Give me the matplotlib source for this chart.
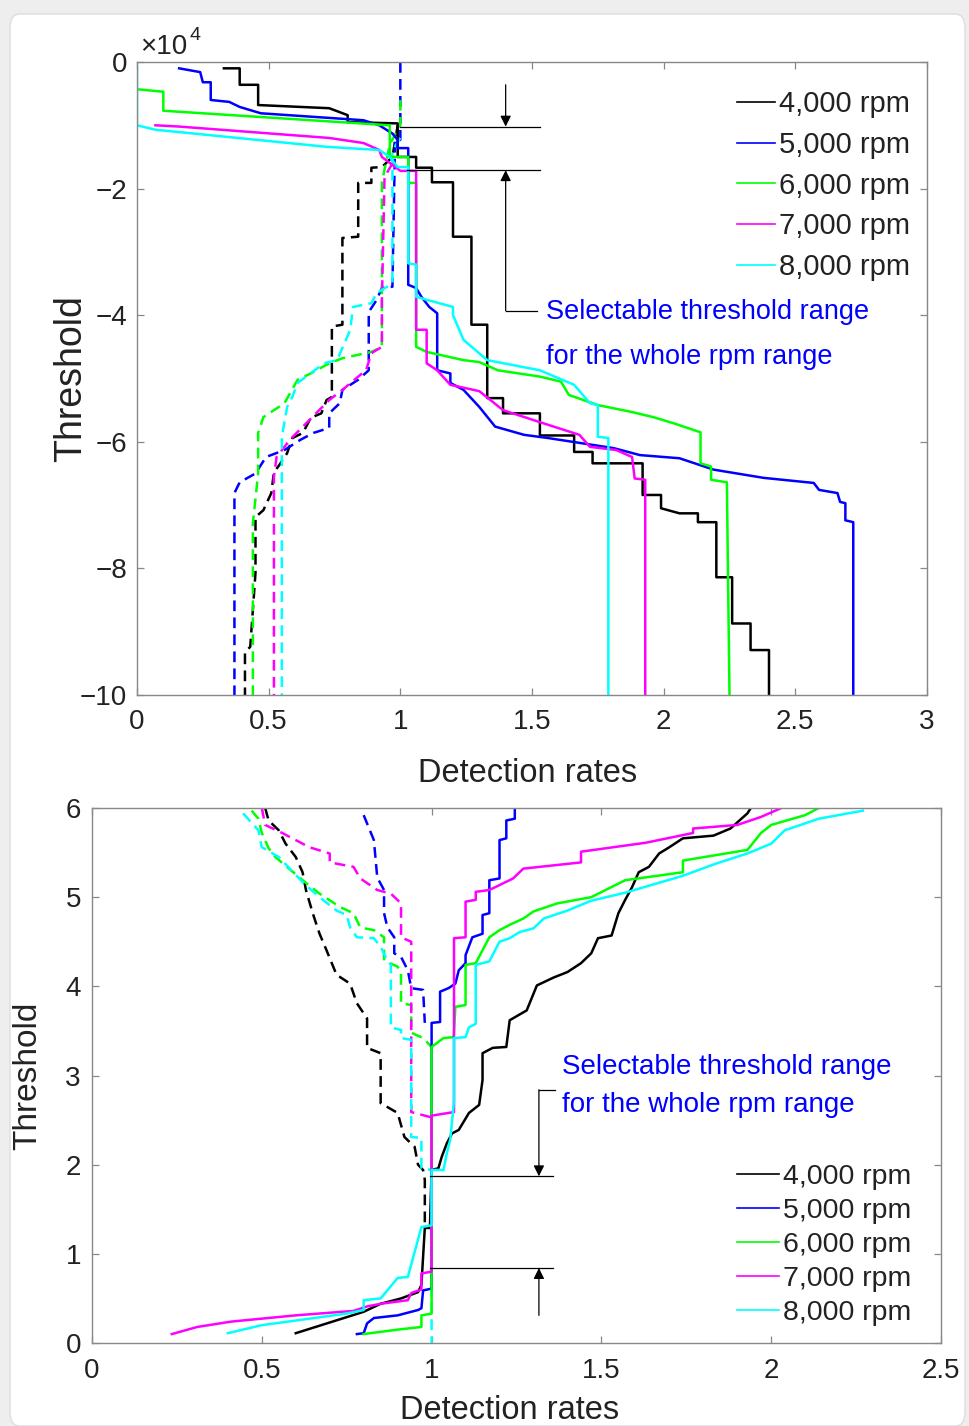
import matplotlib
matplotlib.use("Agg")
import matplotlib.pyplot as plt
from matplotlib.lines import Line2D
from matplotlib.patches import FancyBboxPatch

FONT = "Liberation Sans"

# ---------------- data: upper panel (threshold in units of 1e4) ----------------
rpm_labels = ["4,000 rpm", "5,000 rpm", "6,000 rpm", "7,000 rpm", "8,000 rpm"]
colors = ["#000000", "#0000ff", "#00ff00", "#ff00ff", "#00ffff"]

top_det_4000_x = [0.33, 0.39, 0.39, 0.46, 0.46, 0.73, 0.80, 0.80, 0.99, 0.99, 1.06, 1.06, 1.12, 1.12, 1.20, 1.20,
                  1.27, 1.27, 1.33, 1.33, 1.39, 1.39, 1.53, 1.53, 1.66, 1.66, 1.73, 1.73, 1.92, 1.92, 1.99, 1.99,
                  2.06, 2.13, 2.13, 2.20, 2.20, 2.26, 2.26, 2.33, 2.33, 2.40, 2.40]
top_det_4000_y = [-0.10, -0.10, -0.36, -0.36, -0.68, -0.73, -0.84, -0.95, -0.97, -1.50, -1.50, -1.67, -1.67, -1.90,
                  -1.90, -2.76, -2.76, -4.15, -4.15, -5.31, -5.31, -5.55, -5.55, -5.90, -5.90, -6.16, -6.16, -6.34,
                  -6.34, -6.84, -6.84, -7.05, -7.13, -7.13, -7.27, -7.27, -8.14, -8.14, -8.87, -8.87, -9.29, -9.29,
                  -10.0]
top_det_5000_x = [0.16, 0.24, 0.25, 0.28, 0.28, 0.35, 0.39, 0.47, 0.86, 0.92, 0.97, 0.99, 0.99, 1.03, 1.03, 1.06,
                  1.08, 1.11, 1.14, 1.14, 1.19, 1.19, 1.24, 1.30, 1.36, 1.47, 1.56, 1.81, 1.91, 2.06, 2.19, 2.38,
                  2.57, 2.59, 2.66, 2.67, 2.69, 2.69, 2.72, 2.72]
top_det_5000_y = [-0.10, -0.16, -0.32, -0.32, -0.60, -0.63, -0.71, -0.81, -0.92, -1.00, -1.13, -1.23, -1.36, -1.36,
                  -3.52, -3.57, -3.71, -3.87, -3.97, -4.87, -4.92, -5.07, -5.18, -5.45, -5.76, -5.89, -5.94, -6.10,
                  -6.21, -6.26, -6.44, -6.57, -6.65, -6.76, -6.81, -6.95, -6.97, -7.24, -7.27, -10.0]
top_det_6000_x = [0.00, 0.10, 0.10, 0.96, 0.96, 1.03, 1.03, 1.06, 1.06, 1.10, 1.24, 1.30, 1.37, 1.53, 1.61, 1.64,
                  1.75, 1.88, 1.96, 2.04, 2.14, 2.14, 2.18, 2.18, 2.24, 2.25]
top_det_6000_y = [-0.43, -0.47, -0.77, -1.00, -1.50, -1.50, -1.91, -1.91, -4.50, -4.58, -4.71, -4.74, -4.87, -4.97,
                  -5.05, -5.26, -5.42, -5.53, -5.61, -5.71, -5.85, -6.34, -6.39, -6.60, -6.64, -10.0]
top_det_7000_x = [0.07, 0.16, 0.73, 0.86, 0.92, 0.93, 1.00, 1.06, 1.06, 1.10, 1.10, 1.14, 1.19, 1.30, 1.39, 1.53,
                  1.68, 1.72, 1.82, 1.88, 1.89, 1.93, 1.93]
top_det_7000_y = [-1.00, -1.02, -1.20, -1.28, -1.39, -1.50, -1.72, -1.72, -4.23, -4.23, -4.76, -4.87, -5.10, -5.20,
                  -5.50, -5.69, -5.89, -6.08, -6.13, -6.24, -6.58, -6.60, -10.0]
top_det_8000_x = [0.00, 0.00, 0.07, 0.72, 0.92, 0.96, 0.99, 1.03, 1.03, 1.06, 1.06, 1.20, 1.20, 1.24, 1.33, 1.53,
                  1.66, 1.72, 1.75, 1.75, 1.79, 1.79]
top_det_8000_y = [-0.10, -1.00, -1.07, -1.34, -1.39, -1.50, -1.66, -1.66, -3.18, -3.20, -3.71, -3.87, -4.00, -4.39,
                  -4.71, -4.87, -5.10, -5.39, -5.42, -5.92, -5.94, -10.0]

top_fa_4000_x = [0.99, 0.97, 0.93, 0.89, 0.89, 0.84, 0.84, 0.78, 0.78, 0.74, 0.74, 0.72, 0.70, 0.66, 0.63, 0.59,
                 0.57, 0.54, 0.52, 0.51, 0.48, 0.45, 0.45, 0.43, 0.41, 0.41]
top_fa_4000_y = [-1.00, -1.50, -1.66, -1.67, -1.91, -1.91, -2.76, -2.78, -4.15, -4.18, -5.29, -5.34, -5.55, -5.62,
                 -5.86, -5.94, -6.18, -6.37, -6.48, -6.81, -7.08, -7.19, -8.07, -9.24, -9.32, -10.0]
top_fa_5000_x = [1.00, 1.00, 0.98, 0.97, 0.93, 0.91, 0.88, 0.88, 0.84, 0.78, 0.77, 0.73, 0.73, 0.67, 0.62, 0.56,
                 0.49, 0.45, 0.39, 0.37, 0.37]
top_fa_5000_y = [0.00, -1.23, -1.23, -3.55, -3.57, -3.76, -3.95, -4.87, -5.02, -5.18, -5.39, -5.55, -5.78, -5.86,
                 -5.97, -6.13, -6.24, -6.50, -6.64, -6.81, -10.0]
top_fa_6000_x = [1.00, 1.00, 0.96, 0.93, 0.93, 0.89, 0.78, 0.73, 0.66, 0.61, 0.56, 0.48, 0.46, 0.46, 0.44, 0.44]
top_fa_6000_y = [-0.60, -1.00, -1.30, -1.90, -4.50, -4.58, -4.68, -4.76, -4.92, -5.02, -5.39, -5.61, -5.86, -6.50,
                 -7.29, -10.0]
top_fa_7000_x = [0.97, 0.94, 0.93, 0.93, 0.89, 0.87, 0.84, 0.78, 0.73, 0.68, 0.63, 0.58, 0.56, 0.53, 0.52, 0.52]
top_fa_7000_y = [-1.60, -1.82, -3.76, -4.50, -4.60, -4.87, -4.97, -5.18, -5.34, -5.55, -5.76, -5.97, -6.08, -6.24,
                 -6.55, -10.0]
top_fa_8000_x = [1.00, 0.97, 0.97, 0.91, 0.89, 0.82, 0.81, 0.76, 0.71, 0.61, 0.59, 0.57, 0.55, 0.55]
top_fa_8000_y = [-1.20, -1.40, -3.50, -3.65, -3.81, -3.87, -4.23, -4.71, -4.76, -5.07, -5.29, -5.45, -5.92, -10.0]

# ---------------- data: lower panel ----------------
bot_det_4000_x = [0.60, 0.65, 0.75, 0.80, 0.85, 0.91, 0.96, 0.97, 0.98, 0.995, 1.00, 1.02, 1.03, 1.045, 1.06, 1.08,
                  1.11, 1.14, 1.15, 1.15, 1.18, 1.22, 1.23, 1.28, 1.31, 1.36, 1.40, 1.44, 1.47, 1.49, 1.53, 1.55,
                  1.57, 1.59, 1.61, 1.64, 1.67, 1.70, 1.74, 1.83, 1.88, 1.93, 1.94]
bot_det_4000_y = [0.11, 0.17, 0.29, 0.35, 0.44, 0.50, 0.57, 0.65, 1.29, 1.29, 1.94, 1.96, 2.09, 2.24, 2.35, 2.39,
                  2.58, 2.67, 2.95, 3.25, 3.31, 3.32, 3.62, 3.73, 4.01, 4.10, 4.16, 4.26, 4.37, 4.54, 4.57, 4.82,
                  4.97, 5.11, 5.28, 5.34, 5.49, 5.56, 5.66, 5.69, 5.77, 5.94, 6.00]
bot_det_5000_x = [0.78, 0.80, 0.81, 0.83, 0.90, 0.96, 0.97, 0.975, 1.00, 1.00, 1.025, 1.025, 1.05, 1.07, 1.08, 1.10,
                  1.10, 1.12, 1.15, 1.15, 1.17, 1.17, 1.20, 1.20, 1.22, 1.22, 1.245, 1.245]
bot_det_5000_y = [0.10, 0.11, 0.22, 0.28, 0.31, 0.37, 0.39, 0.59, 0.61, 3.59, 3.60, 3.94, 3.98, 4.03, 4.18, 4.26,
                  4.35, 4.55, 4.59, 4.80, 4.82, 5.19, 5.21, 5.64, 5.66, 5.86, 5.88, 6.00]
bot_det_6000_x = [0.80, 0.90, 0.97, 0.97, 1.00, 1.00, 1.035, 1.065, 1.07, 1.10, 1.10, 1.13, 1.17, 1.20, 1.23, 1.27,
                  1.30, 1.37, 1.47, 1.57, 1.74, 1.74, 1.93, 1.97, 2.00, 2.10, 2.14]
bot_det_6000_y = [0.10, 0.15, 0.18, 0.31, 0.33, 3.32, 3.42, 3.43, 3.77, 3.79, 4.24, 4.26, 4.55, 4.63, 4.69, 4.76,
                  4.84, 4.93, 5.00, 5.19, 5.28, 5.41, 5.53, 5.72, 5.81, 5.92, 6.00]
bot_det_7000_x = [0.235, 0.31, 0.41, 0.60, 0.77, 0.81, 0.85, 0.93, 0.94, 0.97, 0.97, 1.00, 1.00, 1.066, 1.066, 1.10,
                  1.10, 1.13, 1.13, 1.17, 1.24, 1.27, 1.44, 1.44, 1.63, 1.77, 1.77, 1.90, 1.97, 2.03]
bot_det_7000_y = [0.10, 0.18, 0.24, 0.31, 0.36, 0.41, 0.44, 0.48, 0.56, 0.60, 0.78, 0.80, 2.55, 2.59, 4.54, 4.55,
                  4.95, 4.97, 5.06, 5.08, 5.21, 5.32, 5.39, 5.51, 5.61, 5.72, 5.77, 5.81, 5.90, 6.00]
bot_det_8000_x = [0.40, 0.50, 0.75, 0.80, 0.80, 0.85, 0.90, 0.93, 0.97, 1.00, 1.00, 1.035, 1.045, 1.055, 1.066, 1.066,
                  1.10, 1.11, 1.13, 1.13, 1.17, 1.20, 1.23, 1.26, 1.30, 1.33, 1.40, 1.47, 1.57, 1.74, 1.84, 1.93,
                  2.00, 2.04, 2.14, 2.27]
bot_det_8000_y = [0.11, 0.20, 0.33, 0.37, 0.48, 0.50, 0.73, 0.74, 1.30, 1.32, 1.94, 1.94, 2.13, 2.28, 2.72, 3.42,
                  3.43, 3.54, 3.58, 4.24, 4.28, 4.50, 4.54, 4.61, 4.65, 4.76, 4.85, 4.96, 5.05, 5.24, 5.38, 5.49,
                  5.60, 5.75, 5.88, 5.97]

bot_fa_4000_x = [0.51, 0.52, 0.55, 0.57, 0.60, 0.62, 0.63, 0.65, 0.67, 0.69, 0.72, 0.76, 0.78, 0.81, 0.81, 0.85,
                 0.85, 0.90, 0.92, 0.95, 0.96, 0.975, 0.98, 0.98]
bot_fa_4000_y = [6.00, 5.86, 5.75, 5.60, 5.45, 5.28, 5.08, 4.82, 4.59, 4.41, 4.13, 4.03, 3.81, 3.64, 3.31, 3.25,
                 2.69, 2.58, 2.31, 2.20, 2.00, 1.94, 1.83, 1.30]
bot_fa_5000_x = [0.80, 0.83, 0.84, 0.86, 0.86, 0.87, 0.89, 0.89, 0.91, 0.93, 0.94, 0.975, 0.98]
bot_fa_5000_y = [5.92, 5.64, 5.22, 5.08, 4.82, 4.66, 4.55, 4.37, 4.33, 4.18, 3.98, 3.96, 3.59]
bot_fa_6000_x = [0.47, 0.49, 0.50, 0.52, 0.54, 0.58, 0.63, 0.67, 0.73, 0.77, 0.79, 0.83, 0.86, 0.86, 0.90, 0.91,
                 0.91, 0.94, 0.94, 0.975, 1.00]
bot_fa_6000_y = [5.97, 5.88, 5.72, 5.55, 5.45, 5.32, 5.16, 5.04, 4.89, 4.82, 4.66, 4.63, 4.55, 4.29, 4.22, 4.15,
                 3.81, 3.79, 3.48, 3.42, 3.32]
bot_fa_7000_x = [0.50, 0.51, 0.56, 0.61, 0.64, 0.70, 0.70, 0.77, 0.79, 0.84, 0.88, 0.91, 0.91, 0.94, 0.94, 1.00,
                 1.00]
bot_fa_7000_y = [6.00, 5.81, 5.72, 5.62, 5.56, 5.49, 5.39, 5.34, 5.21, 5.08, 5.04, 4.93, 4.55, 4.50, 2.59, 2.53,
                 0.80]
bot_fa_8000_x = [0.445, 0.49, 0.50, 0.55, 0.60, 0.63, 0.68, 0.72, 0.75, 0.76, 0.78, 0.83, 0.85, 0.87, 0.88, 0.88,
                 0.91, 0.91, 0.94, 0.94, 0.97, 0.97, 1.00, 1.00]
bot_fa_8000_y = [5.94, 5.75, 5.56, 5.45, 5.25, 5.13, 4.97, 4.85, 4.80, 4.66, 4.55, 4.54, 4.44, 4.29, 4.24, 3.54,
                 3.51, 3.42, 3.40, 2.31, 2.30, 1.96, 1.94, 0.00]

top_det = [(top_det_4000_x, top_det_4000_y), (top_det_5000_x, top_det_5000_y), (top_det_6000_x, top_det_6000_y),
           (top_det_7000_x, top_det_7000_y), (top_det_8000_x, top_det_8000_y)]
top_fa = [(top_fa_4000_x, top_fa_4000_y), (top_fa_5000_x, top_fa_5000_y), (top_fa_6000_x, top_fa_6000_y),
          (top_fa_7000_x, top_fa_7000_y), (top_fa_8000_x, top_fa_8000_y)]
bot_det = [(bot_det_4000_x, bot_det_4000_y), (bot_det_5000_x, bot_det_5000_y), (bot_det_6000_x, bot_det_6000_y),
           (bot_det_7000_x, bot_det_7000_y), (bot_det_8000_x, bot_det_8000_y)]
bot_fa = [(bot_fa_4000_x, bot_fa_4000_y), (bot_fa_5000_x, bot_fa_5000_y), (bot_fa_6000_x, bot_fa_6000_y),
          (bot_fa_7000_x, bot_fa_7000_y), (bot_fa_8000_x, bot_fa_8000_y)]

# selectable range markers
top_range = [-1.02, -1.71]
bot_range = [1.87, 0.84]

# ---------------- figure ----------------
W, H = 969, 1426
fig = plt.figure(figsize=(W / 100, H / 100), dpi=100, facecolor="#eeeeee")
frame = FancyBboxPatch((10 / W, 0), 955 / W, 1 - 14 / H, boxstyle="round,pad=0,rounding_size=0.01",
                       transform=fig.transFigure, facecolor="white", edgecolor="#dddddd", lw=1, zorder=-10)
fig.patches.append(frame)


def px_axes(l, t, r, b):
    return fig.add_axes([l / W, 1 - b / H, (r - l) / W, (b - t) / H])


ax1 = px_axes(137, 62, 927, 695)
ax2 = px_axes(92, 808, 941, 1343)

LW = 1.8
DASH = (0, (4.3, 2.5))

for (x, y), c in zip(top_fa, colors):
    ax1.plot(x, y, color=c, lw=LW, linestyle=DASH)
for (x, y), c in zip(top_det, colors):
    ax1.plot(x, y, color=c, lw=LW)
for (x, y), c in zip(bot_fa, colors):
    ax2.plot(x, y, color=c, lw=LW, linestyle=DASH)
for (x, y), c in zip(bot_det, colors):
    ax2.plot(x, y, color=c, lw=LW)

for ax in (ax1, ax2):
    ax.set_facecolor("white")
    for s in ax.spines.values():
        s.set_color("#888888")
        s.set_linewidth(1.0)
    ax.tick_params(direction="in", length=5, width=0.9, color="#888888", top=True, right=True,
                   labelcolor="#222222", labelfontfamily=FONT)

# upper axes
ax1.set_xlim(0, 3)
ax1.set_ylim(-10, 0)
ax1.set_xticks([0, 0.5, 1, 1.5, 2, 2.5, 3])
ax1.set_xticklabels(["0", "0.5", "1", "1.5", "2", "2.5", "3"])
ax1.set_yticks([-10, -8, -6, -4, -2, 0])
ax1.set_yticklabels(["\u221210", "\u22128", "\u22126", "\u22124", "\u22122", "0"])
ax1.tick_params(labelsize=20)
ax1.tick_params(axis="x", pad=10)
ax1.tick_params(axis="y", pad=7)
ax1.set_xlabel("Detection rates", fontsize=23.5, family=FONT, color="#222222")
ax1.xaxis.set_label_coords(0.494, -0.100)
ax1.set_ylabel("Threshold", fontsize=27, family=FONT, color="#222222")
ax1.yaxis.set_label_coords(-0.061, 0.5)
ax1.text(0.004, 1.012, "\u00d710", transform=ax1.transAxes, fontsize=20, family=FONT, color="#222222",
         va="baseline", ha="left")
ax1.text(0.067, 1.034, "4", transform=ax1.transAxes, fontsize=14, family=FONT, color="#222222",
         va="baseline", ha="left")

# upper annotation
ax1.plot([1.00, 1.53], [top_range[0]] * 2, color="k", lw=0.9)
ax1.plot([1.025, 1.53], [top_range[1]] * 2, color="k", lw=0.9)
arrow = dict(arrowstyle="-|>", color="k", lw=0.9, mutation_scale=16, shrinkA=0, shrinkB=0)
ax1.annotate("", xy=(1.40, top_range[0]), xytext=(1.40, -0.36), arrowprops=arrow)
ax1.annotate("", xy=(1.40, top_range[1]), xytext=(1.40, -3.93), arrowprops=arrow)
ax1.plot([1.40, 1.52], [-3.93, -3.93], color="k", lw=0.9)
ax1.text(1.555, -3.95, "Selectable threshold range", color="#0000ff", fontsize=19.5, family=FONT, va="center")
ax1.text(1.555, -4.66, "for the whole rpm range", color="#0000ff", fontsize=19.5, family=FONT, va="center")

# lower axes
ax2.set_xlim(0, 2.5)
ax2.set_ylim(0, 6)
ax2.set_xticks([0, 0.5, 1, 1.5, 2, 2.5])
ax2.set_xticklabels(["0", "0.5", "1", "1.5", "2", "2.5"])
ax2.set_yticks([0, 1, 2, 3, 4, 5, 6])
ax2.tick_params(labelsize=20)
ax2.tick_params(axis="x", pad=11)
ax2.tick_params(axis="y", pad=8)
ax2.set_xlabel("Detection rates", fontsize=23.5, family=FONT, color="#222222")
ax2.xaxis.set_label_coords(0.492, -0.098)
ax2.set_ylabel("Threshold", fontsize=24, family=FONT, color="#222222")
ax2.yaxis.set_label_coords(-0.057, 0.5)

ax2.plot([0.995, 1.357], [bot_range[0]] * 2, color="k", lw=0.9)
ax2.plot([0.995, 1.357], [bot_range[1]] * 2, color="k", lw=0.9)
ax2.annotate("", xy=(1.316, bot_range[0]), xytext=(1.316, 2.84), arrowprops=arrow)
ax2.annotate("", xy=(1.316, bot_range[1]), xytext=(1.316, 0.31), arrowprops=arrow)
ax2.plot([1.316, 1.363], [2.84, 2.84], color="k", lw=0.9)
ax2.text(1.384, 3.09, "Selectable threshold range", color="#0000ff", fontsize=20, family=FONT, va="center")
ax2.text(1.384, 2.67, "for the whole rpm range", color="#0000ff", fontsize=20, family=FONT, va="center")

# legends
handles = [Line2D([], [], color=c, lw=1.2) for c in colors]
leg1 = ax1.legend(handles, rpm_labels, loc="upper left", bbox_to_anchor=(737 / W, 1 - 90 / H),
                  bbox_transform=fig.transFigure, frameon=False, borderpad=0, borderaxespad=0,
                  handlelength=1.3, handletextpad=0.14, labelspacing=0.44,
                  prop={"family": FONT, "size": 21})
leg2 = ax2.legend(handles, rpm_labels, loc="upper left", bbox_to_anchor=(737 / W, 1 - 1164 / H),
                  bbox_transform=fig.transFigure, frameon=False, borderpad=0, borderaxespad=0,
                  handlelength=1.46, handletextpad=0.14, labelspacing=0.28,
                  prop={"family": FONT, "size": 20.5})
for leg in (leg1, leg2):
    for t in leg.get_texts():
        t.set_color("#222222")

fig.savefig("out.png", dpi=100, facecolor=fig.get_facecolor())
